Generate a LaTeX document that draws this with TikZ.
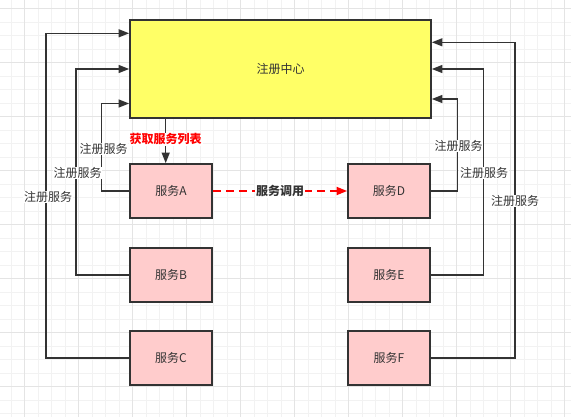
\documentclass[tikz,border=0pt]{standalone}
\usepackage{fontspec}
\setmainfont{Noto Sans CJK SC}
\usetikzlibrary{arrows.meta}
\definecolor{edge}{HTML}{333333}
\definecolor{regfill}{HTML}{FFFF66}
\definecolor{svcfill}{HTML}{FFCCCC}
\definecolor{gridminor}{HTML}{F2F2F2}
\definecolor{gridmajor}{HTML}{E4E4E4}
\definecolor{callred}{HTML}{FF0000}
\tikzset{
  box/.style={draw=edge, line width=1.8pt, text=edge, font=\fontsize{12}{14}\selectfont, inner sep=0pt},
  regbox/.style={box, fill=regfill, minimum width=301pt, minimum height=98pt},
  svcbox/.style={box, fill=svcfill, minimum width=82pt, minimum height=54pt},
  conn/.style={draw=edge, line width=1.4pt, -{Triangle[length=10.5pt,width=8pt]}},
  lbl/.style={fill=white, text=edge, font=\fontsize{12}{14}\selectfont, inner sep=0.8pt},
  redlbl/.style={fill=white, text=callred, font=\fontsize{12}{14}\selectfont\bfseries, inner sep=0.8pt},
  calllbl/.style={fill=white, text=edge, font=\fontsize{12}{14}\selectfont\bfseries, inner sep=0.8pt},
  dashline/.style={draw=callred, line width=1.8pt, dash pattern=on 8pt off 5pt, -{Triangle[length=10.5pt,width=8pt]}},
}
\begin{document}
\begin{tikzpicture}[x=1pt,y=-1pt]
\useasboundingbox (0,0) rectangle (571,417);
\fill[white] (0,0) rectangle (571,417);
% minor grid
\foreach \i in {0,...,42} {
  \draw[gridminor, line width=0.8pt] ({11.2+13.5*\i},0) -- ({11.2+13.5*\i},417);
}
\foreach \j in {0,...,31} {
  \draw[gridminor, line width=0.8pt] (0,{8.7+13.5*\j}) -- (571,{8.7+13.5*\j});
}
% major grid
\foreach \i in {0,...,10} {
  \draw[gridmajor, line width=0.9pt] ({24.7+54*\i},0) -- ({24.7+54*\i},417);
}
\foreach \j in {0,...,7} {
  \draw[gridmajor, line width=0.9pt] (0,{8.7+54*\j}) -- (571,{8.7+54*\j});
}

\node[regbox] (reg) at (280.5,69) {注册中心};
\node[svcbox] (A) at (171,191) {服务A};
\node[svcbox] (B) at (171,275) {服务B};
\node[svcbox] (C) at (171,358) {服务C};
\node[svcbox] (D) at (389,191) {服务D};
\node[svcbox] (E) at (389,275) {服务E};
\node[svcbox] (F) at (389,358) {服务F};

% left registrations
\draw[conn] (A.west) -- ++(-27.5,0) |- ([yshift=-34.5pt]reg.west);
\draw[conn] (B.west) -- ++(-53,0) |- (reg.west);
\draw[conn] (C.west) -- ++(-83,0) |- ([yshift=35.7pt]reg.west);
% right registrations
\draw[conn] (D.east) -- ++(26.7,0) |- ([yshift=-30pt]reg.east);
\draw[conn] (E.east) -- ++(52.7,0) |- (reg.east);
\draw[conn] (F.east) -- ++(84,0) |- ([yshift=26.7pt]reg.east);

\node[lbl] (lA) at (103.5,149) {注册服务};
\node[lbl] (lB) at (77.5,173) {注册服务};
\node[lbl] (lC) at (48,197) {注册服务};
\node[lbl] (lD) at (458.5,146) {注册服务};
\node[lbl] (lE) at (484,173) {注册服务};
\node[lbl] (lF) at (515,201) {注册服务};

% get list
\coordinate (Atop) at ([xshift=-5.3pt]A.north);
\draw[conn] (reg.south -| Atop) -- (Atop) node[redlbl, pos=0.46] (glist) {获取服务列表};

% service call
\draw[dashline] (A.east) -- (D.west) node[calllbl, midway] (call) {服务调用};
\end{tikzpicture}
\end{document}
